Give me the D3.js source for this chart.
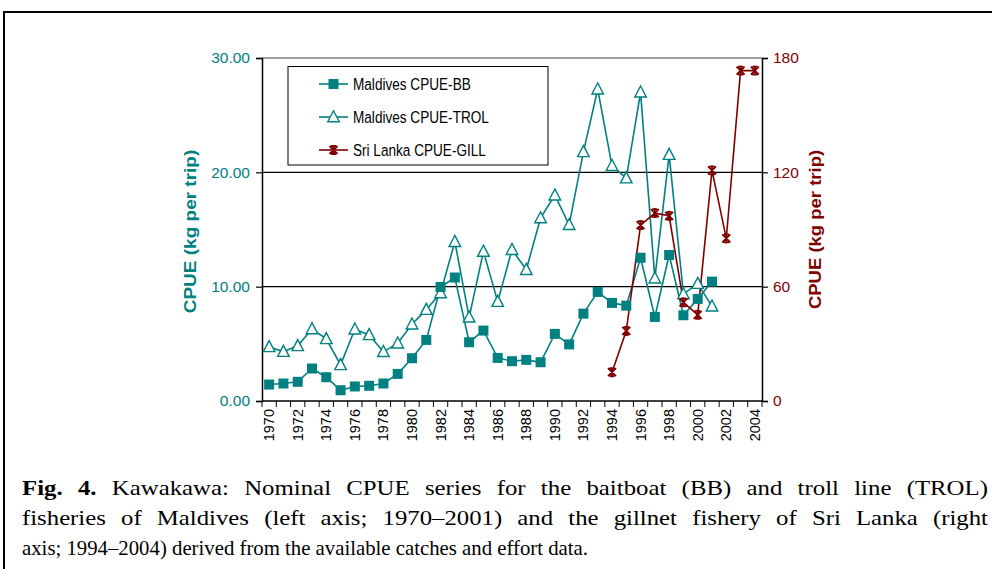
<!DOCTYPE html>
<html><head><meta charset="utf-8">
<script src="https://cdn.jsdelivr.net/npm/d3@7"></script>
<style>
html,body{margin:0;padding:0;background:#fff;}
svg{display:block;}
</style></head>
<body>
<svg id="chart" width="992" height="569"></svg>
<script>
const years = d3.range(1970, 2005);
const yearLabels = d3.range(1970, 2005, 2);
const leftTicks = [0, 10, 20, 30];
const rightTicks = [0, 60, 120, 180];

const bbYears = d3.range(1970, 2002);
const bbValues = [1.44,1.53,1.68,2.84,2.08,0.94,1.27,1.33,1.53,2.37,3.74,5.34,9.97,10.8,5.14,6.16,3.77,3.48,3.6,3.39,5.87,4.95,7.64,9.54,8.58,8.34,12.53,7.35,12.77,7.5,8.93,10.44];
const trolYears = d3.range(1970, 2002);
const trolValues = [4.73,4.32,4.82,6.3,5.43,3.16,6.27,5.78,4.3,5.05,6.71,7.99,9.45,13.93,7.32,13.08,8.69,13.23,11.48,16.0,18.0,15.41,21.79,27.27,20.57,19.49,27.0,10.73,21.55,9.35,10.26,8.28];
const slYears = d3.range(1994, 2005);
const slValues = [15.1,36.8,92.3,98.6,97.2,51.8,45.2,121.0,85.3,173.4,173.4];

const seriesNames = ["Maldives CPUE-BB","Maldives CPUE-TROL","Sri Lanka CPUE-GILL"];
const axisTitle = "CPUE (kg per trip)";
const captionLines = [
  ["Fig. 4.", " Kawakawa: Nominal CPUE series for the baitboat (BB) and troll line (TROL)"],
  ["", "fisheries of Maldives (left axis; 1970–2001) and the gillnet fishery of Sri Lanka (right"],
  ["", "axis; 1994–2004) derived from the available catches and effort data."]
];

const TEAL = "#008080", RED = "#800000";
const SANS = "Arial, 'Liberation Sans', sans-serif";
const svg = d3.select("#chart");
const L = 262, R = 762, T = 58, B = 401;

// outer frame
svg.append("path").attr("d", `M4,569 L4,12 L992,12`).attr("fill","none").attr("stroke","#000").attr("stroke-width",2);

const x = d3.scaleBand().domain(years).range([L, R]);
const yL = d3.scaleLinear().domain([0, 30]).range([B, T]);
const yR = d3.scaleLinear().domain([0, 180]).range([B, T]);

// gridlines
svg.append("g").selectAll("line").data([10,20,30]).join("line")
  .attr("x1", L).attr("x2", R).attr("y1", d=>yL(d)).attr("y2", d=>yL(d))
  .attr("stroke", d=> d===30 ? "#444" : "#000").attr("stroke-width",1.2);

// left axis
const gL = svg.append("g").attr("transform",`translate(${L},0)`)
  .call(d3.axisLeft(yL).tickValues(leftTicks).tickFormat(d3.format(".2f")).tickSize(6).tickPadding(6));
gL.select(".domain").attr("stroke","#000").attr("stroke-width",1.5);
gL.selectAll(".tick line").attr("stroke","#000").attr("stroke-width",1.2);
gL.selectAll("text").attr("fill",TEAL).style("font-family",SANS).style("font-size","15.5px");

// right axis
const gR = svg.append("g").attr("transform",`translate(${R},0)`)
  .call(d3.axisRight(yR).tickValues(rightTicks).tickSize(6).tickPadding(5));
gR.select(".domain").attr("stroke","#000").attr("stroke-width",1.5);
gR.selectAll(".tick line").attr("stroke","#000").attr("stroke-width",1.2);
gR.selectAll("text").attr("fill",RED).style("font-family",SANS).style("font-size","15.5px");

// bottom axis
const gB = svg.append("g").attr("transform",`translate(0,${B})`);
gB.append("line").attr("x1",L).attr("x2",R).attr("stroke","#000").attr("stroke-width",1.5);
const bounds = years.map(d=>x(d)).concat([R]);
gB.selectAll("line.tk").data(bounds).join("line").attr("class","tk")
  .attr("x1",d=>d).attr("x2",d=>d).attr("y1",0).attr("y2",6).attr("stroke","#000").attr("stroke-width",1);
gB.selectAll("text").data(yearLabels).join("text")
  .attr("transform", d=>`translate(${x(d)+x.bandwidth()/2+5},8) rotate(-90)`)
  .attr("text-anchor","end")
  .style("font-family",SANS).style("font-size","14.5px")
  .text(d=>d);

// axis titles
svg.append("text").attr("transform",`translate(196,${(T+B)/2+2}) rotate(-90) scale(1,0.85)`)
  .attr("text-anchor","middle").attr("fill",TEAL).style("font-weight","bold")
  .style("font-family",SANS).style("font-size","19px").text(axisTitle);
svg.append("text").attr("transform",`translate(821,${(T+B)/2}) rotate(-90) scale(1,0.85)`)
  .attr("text-anchor","middle").attr("fill",RED).style("font-weight","bold")
  .style("font-family",SANS).style("font-size","18.5px").text(axisTitle);

const cx = d => x(d) + x.bandwidth()/2;

// lines
function drawLine(xs, vs, scale, color){
  const pts = xs.map((d,i)=>[cx(d), scale(vs[i])]);
  svg.append("path").attr("d", d3.line()(pts)).attr("fill","none").attr("stroke",color).attr("stroke-width",1.6);
  return pts;
}
const bbPts = drawLine(bbYears, bbValues, yL, TEAL);
const trPts = drawLine(trolYears, trolValues, yL, TEAL);
const slPts = drawLine(slYears, slValues, yR, RED);

const triPath = s => `M0,${-s*0.6} L${s*0.55},${s*0.45} L${-s*0.55},${s*0.45} Z`;
function square(g, p){ g.append("rect").attr("x",p[0]-5).attr("y",p[1]-5).attr("width",10).attr("height",10).attr("fill",TEAL); }
function tri(g, p){ g.append("path").attr("d",triPath(10.5)).attr("transform",`translate(${p[0]},${p[1]})`).attr("fill","#fff").attr("stroke",TEAL).attr("stroke-width",1.4); }
function star(g, p){ const s=4;
  g.append("path").attr("d",`M${-s},${-s}L${s},${s}M${-s},${s}L${s},${-s}M0,${-s-1}L0,${s+1}M${-2.5},${-s}L2.5,${-s}M${-2.5},${s}L2.5,${s}`)
   .attr("transform",`translate(${p[0]},${p[1]})`).attr("stroke",RED).attr("stroke-width",1.8).attr("fill","none"); }

const mk = svg.append("g");
trPts.forEach(p=>tri(mk,p));
bbPts.forEach(p=>square(mk,p));
slPts.forEach(p=>star(mk,p));

// legend
const lg = svg.append("g");
lg.append("rect").attr("x",288).attr("y",66.5).attr("width",260).attr("height",98.5).attr("fill","#fff").attr("stroke","#000").attr("stroke-width",1);
const rows = [84, 117, 150];
const drawers = [square, tri, star];
const cols = [TEAL, TEAL, RED];
seriesNames.forEach((n,i)=>{
  lg.append("line").attr("x1",319).attr("x2",348).attr("y1",rows[i]).attr("y2",rows[i]).attr("stroke",cols[i]).attr("stroke-width",1.6);
  drawers[i](lg,[333.5,rows[i]]);
  lg.append("text").attr("transform",`translate(353,${rows[i]+6}) scale(0.8,1)`)
    .style("font-family",SANS).style("font-size","17px").text(n);
});

// caption
const cap = svg.append("g");
const capY = [495, 525, 555];
const capWidths = [966, 966, 566];
const capSpacing = [8, 8, 0];
captionLines.forEach((ln,i)=>{
  const t = cap.append("text").attr("x",22).attr("y",capY[i])
    .attr("textLength",capWidths[i]).attr("lengthAdjust","spacingAndGlyphs")
    .style("font-family","'Liberation Serif','Times New Roman',serif").style("font-size","22px")
    .style("word-spacing", capSpacing[i] + "px");
  if (ln[0]) t.append("tspan").style("font-weight","bold").text(ln[0]);
  t.append("tspan").text(ln[1]);
});
</script>
</body></html>
